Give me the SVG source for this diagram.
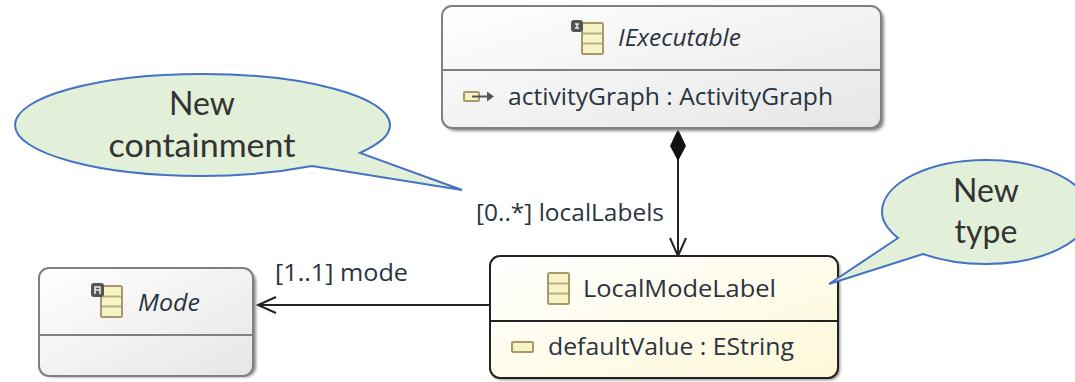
<svg xmlns="http://www.w3.org/2000/svg" width="1075" height="382" viewBox="0 0 1075 382">
<defs>
<linearGradient id="grey" x1="0" y1="0" x2="1" y2="1"><stop offset="0" stop-color="#ffffff"/><stop offset="1" stop-color="#e6e6e6"/></linearGradient>
<linearGradient id="yellow" x1="0" y1="0" x2="1" y2="1"><stop offset="0" stop-color="#ffffff"/><stop offset="1" stop-color="#fdf8d8"/></linearGradient>
<filter id="blur" x="-5%" y="-5%" width="110%" height="110%"><feGaussianBlur stdDeviation="1.5"/></filter>
<g id="cls"><rect x="0" y="0" width="21" height="31" rx="1.500" fill="#f6f3c4" stroke="#a89a68" stroke-width="2"/><path d="M1 10.500H20M1 20.500H20" stroke="#b5b08a" stroke-width="2"/></g>
</defs>
<style>
.shadow{fill:#8a8a8a;filter:url(#blur)}
.grey{fill:url(#grey);stroke:#808080;stroke-width:2}
.yel{fill:url(#yellow);stroke:#222;stroke-width:2}
.dg{stroke:#808080;stroke-width:2}
.dy{stroke:#222;stroke-width:2}
text{font-family:"Open Sans","Noto Sans",sans-serif;font-size:23px;fill:#2a3440}
.it{font-style:italic}
.conn{fill:none;stroke:#222;stroke-width:2}
.call{fill:#e2efd9;stroke:#4472c4;stroke-width:2}
.ct{font-family:Lato,"Open Sans",sans-serif;font-size:32px;fill:#333;text-anchor:middle}
.pill{fill:#f6f3c4;stroke:#a89a68;stroke-width:2}
.tag{fill:#555;stroke:#555;stroke-width:2}
.tagin{fill:none;stroke:#eee;stroke-width:1.500}
</style>
<g id="connectors">
<path class="conn" d="M678 155V256M670 238L678 256L686 238"/>
<path d="M678 129L686 146L678 161L670 146Z" fill="#111"/>
<path class="conn" d="M490 305H258M276 297L258 305L276 313"/>
<text x="476" y="221" textLength="188" lengthAdjust="spacingAndGlyphs">[0..*] localLabels</text>
<text x="275" y="281" textLength="133" lengthAdjust="spacingAndGlyphs">[1..1] mode</text>
</g>
<g id="IExecutable">
<rect class="shadow" x="445" y="9" width="439" height="122" rx="10"/>
<rect class="grey" x="442" y="6" width="439" height="122" rx="10"/>
<path class="dg" d="M442 70H881"/>
<use href="#cls" x="582" y="23"/>
<rect class="tag" x="572" y="21" width="10" height="10" rx="2"/>
<path class="tagin" d="M575 24H579M577 24V28M575 28H579"/>
<text class="it" x="618" y="46" textLength="123" lengthAdjust="spacingAndGlyphs">IExecutable</text>
<rect class="pill" x="464" y="92" width="15" height="9" rx="1"/>
<path d="M472 96.500H488" fill="none" stroke="#555" stroke-width="2"/>
<path d="M487 91.500L494 96.500L487 101.500Z" fill="#555"/>
<text x="508" y="105" textLength="325" lengthAdjust="spacingAndGlyphs">activityGraph : ActivityGraph</text>
</g>
<g id="LocalModeLabel">
<rect class="shadow" x="492" y="258" width="348" height="122" rx="10"/>
<rect class="yel" x="490" y="256" width="348" height="122" rx="10"/>
<path class="dy" d="M490 321H838"/>
<use href="#cls" x="548" y="273"/>
<text x="583" y="297" textLength="193" lengthAdjust="spacingAndGlyphs">LocalModeLabel</text>
<rect class="pill" x="512" y="342" width="21" height="10" rx="1"/>
<text x="548" y="355" textLength="246" lengthAdjust="spacingAndGlyphs">defaultValue : EString</text>
</g>
<g id="Mode">
<rect class="shadow" x="42" y="271" width="214" height="106" rx="10"/>
<rect class="grey" x="39" y="268" width="214" height="108" rx="10"/>
<path class="dg" d="M39 335H253"/>
<use href="#cls" x="101" y="286"/>
<rect class="tag" x="92" y="284" width="11" height="12" rx="2"/>
<path class="tagin" d="M95 294V287H100V294M95 290H100"/>
<text class="it" x="138" y="311" textLength="62" lengthAdjust="spacingAndGlyphs">Mode</text>
</g>
<g id="callout-containment">
<path class="call" d="M360 153C381 143 390 135 390 125C390 97 306 74 202 74C98 74 15 97 15 125C15 153 98 176 202 176C240 176 280 172 312 166L462 190Z"/>
<text class="ct" x="202" y="115">New</text>
<text class="ct" x="202" y="157" textLength="187" lengthAdjust="spacingAndGlyphs">containment</text>
</g>
<g id="callout-type">
<path class="call" d="M898 238C887 229 882 221 882 212C882 183 929 160 986 160C1043 160 1090 183 1090 212C1090 241 1043 264 986 264C962 264 940 260 923 254L829 284Z"/>
<text class="ct" x="986" y="202">New</text>
<text class="ct" x="986" y="243">type</text>
</g>
</svg>
